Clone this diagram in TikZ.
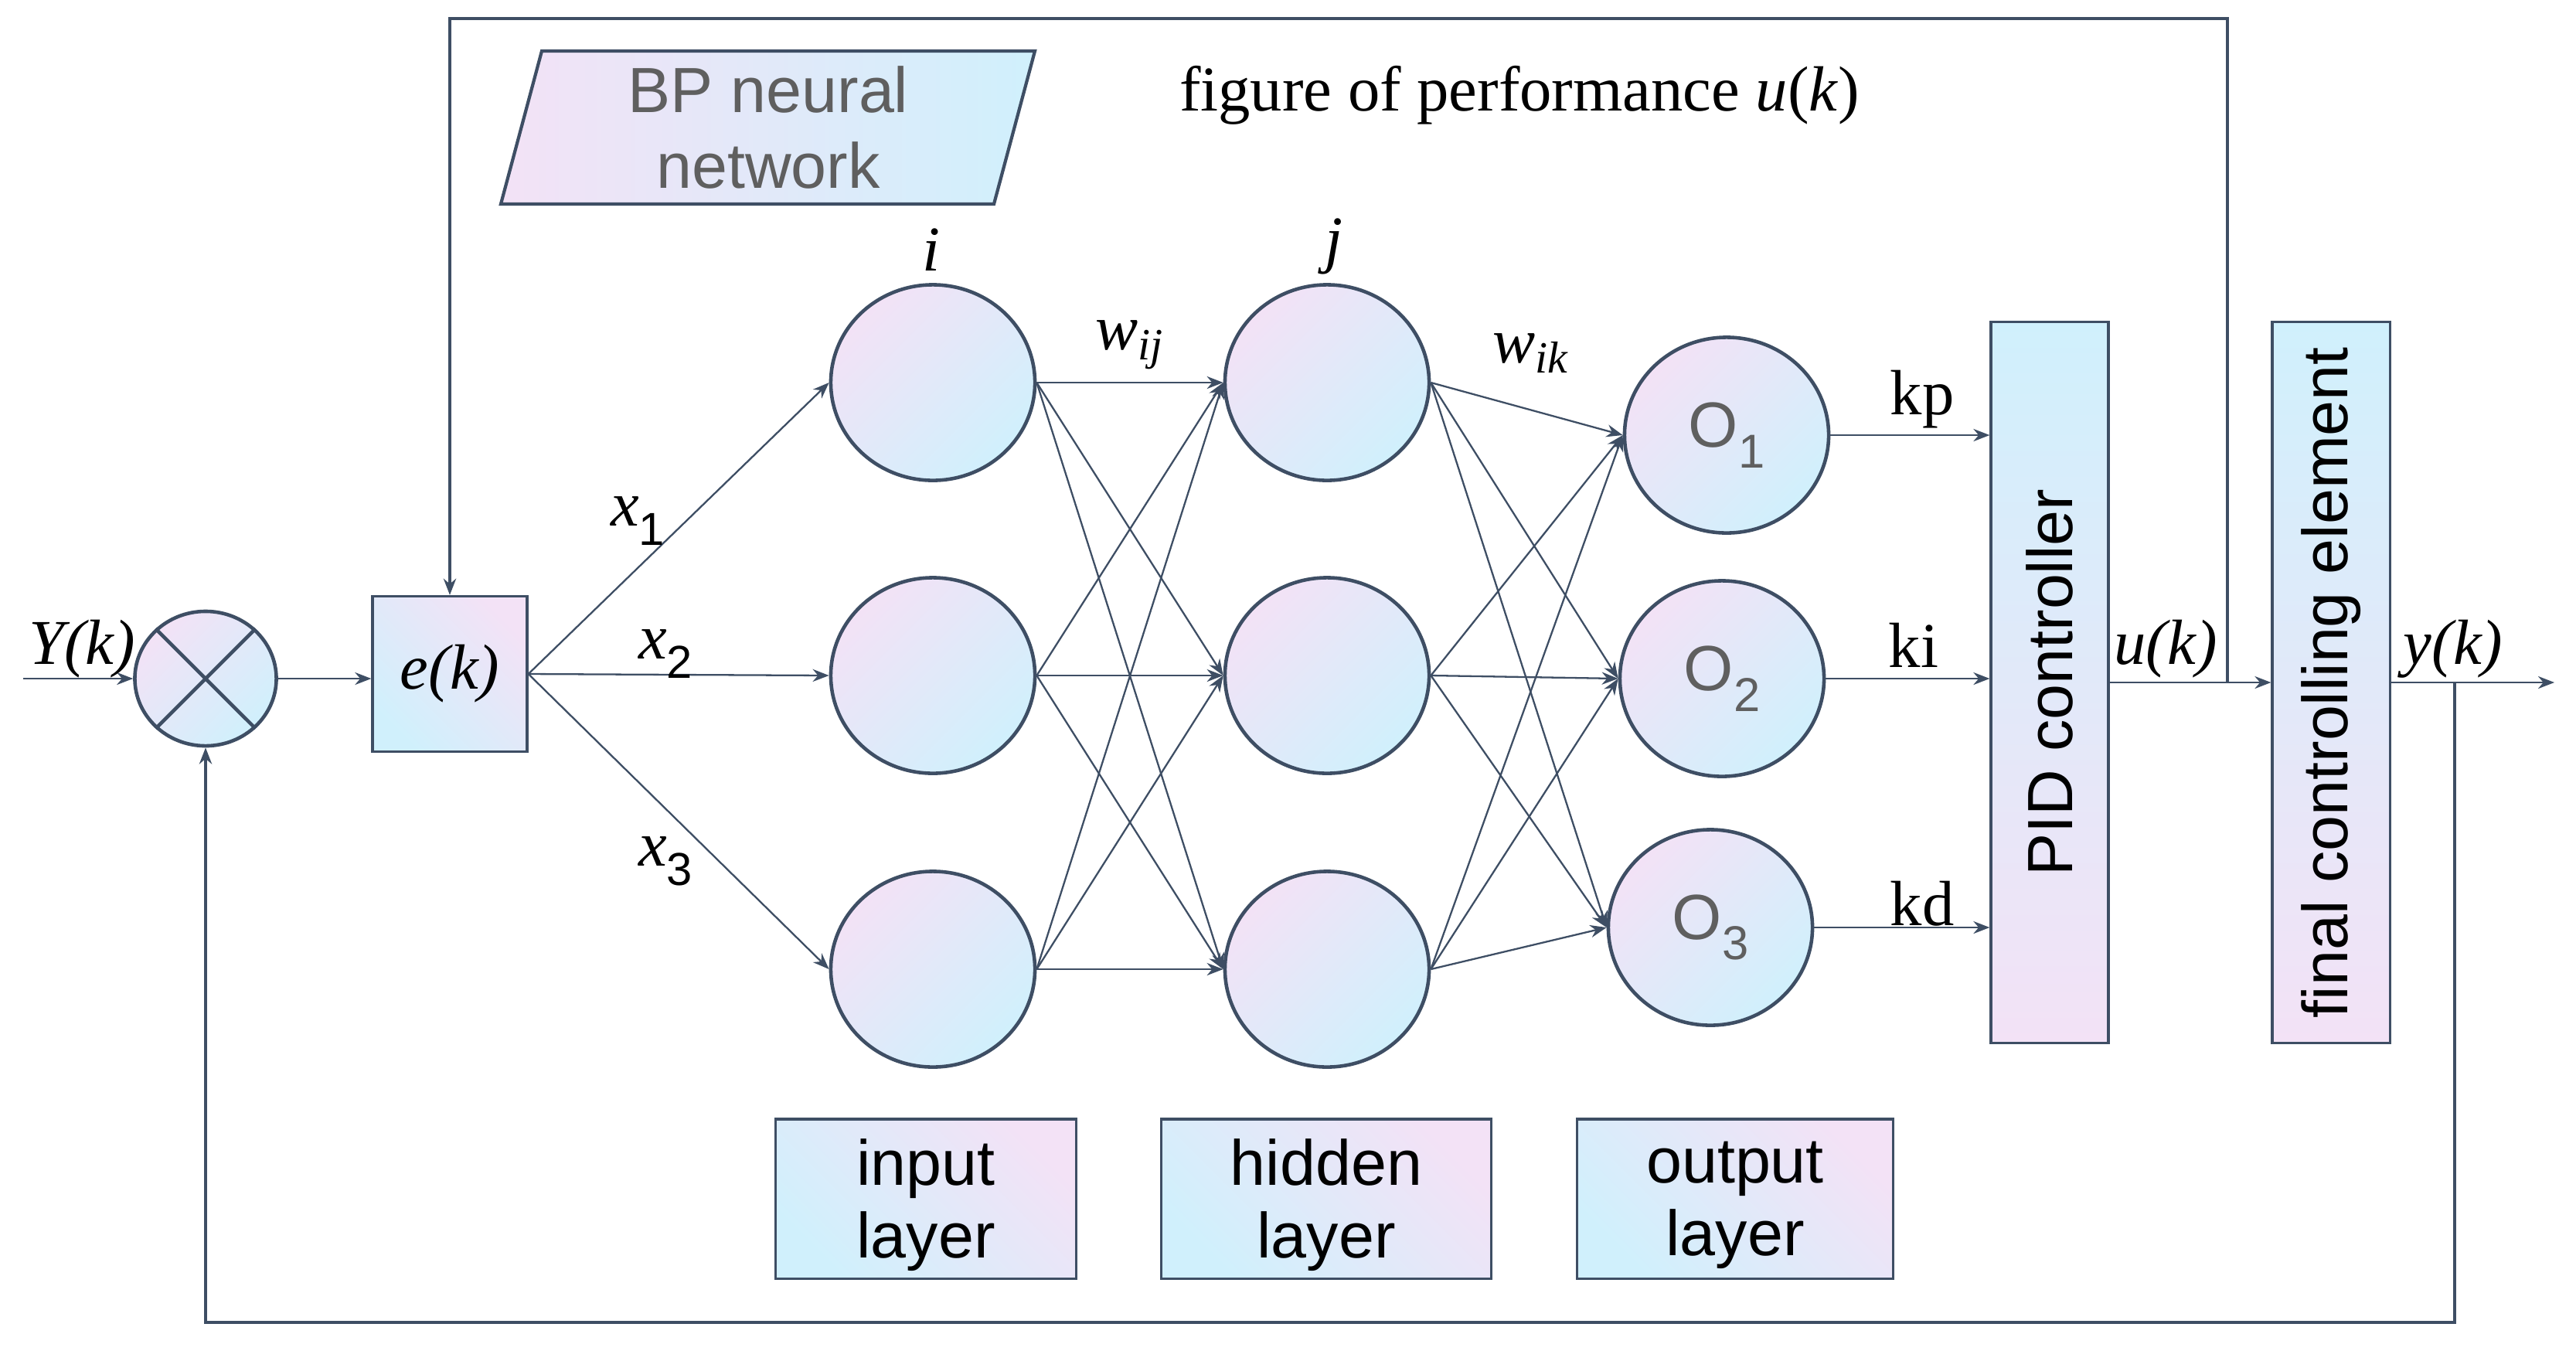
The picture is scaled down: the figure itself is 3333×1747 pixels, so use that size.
\documentclass[tikz,border=0pt]{standalone}
\usepackage{fontspec}
\setmainfont{Liberation Serif}
\setsansfont{Liberation Sans}
\usetikzlibrary{arrows.meta,shapes.geometric,calc}
\definecolor{edgec}{RGB}{62,78,100}
\definecolor{pinkc}{RGB}{243,226,246}
\definecolor{cyanc}{RGB}{208,240,252}
\definecolor{grayt}{RGB}{95,95,95}
\tikzset{
  >={Stealth[length=6pt,width=4.6pt]},
  conn/.style={draw=edgec, line width=0.65pt},
  fb/.style={draw=edgec, line width=1.1pt},
  neuron/.style={ellipse, draw=edgec, line width=1.3pt, minimum width=2.64cm,
    minimum height=2.53cm, inner sep=0pt, top color=pinkc, bottom color=cyanc,
    shading angle=45, font=\sffamily\fontsize{23.5}{28}\selectfont, text=grayt},
  sumc/.style={ellipse, draw=edgec, line width=1.3pt, minimum width=1.83cm,
    minimum height=1.74cm, inner sep=0pt, top color=pinkc, bottom color=cyanc,
    shading angle=45},
  dbox/.style={rectangle, draw=edgec, line width=0.9pt, inner sep=0pt,
    top color=pinkc, bottom color=cyanc, shading angle=-45},
  vbox/.style={rectangle, draw=edgec, line width=0.9pt, inner sep=0pt,
    top color=cyanc, bottom color=pinkc, minimum width=1.52cm, minimum height=9.33cm,
    font=\sffamily\fontsize{23.5}{28}\selectfont},
  laybox/.style={dbox, minimum height=2.06cm},
  laytext/.style={inner sep=0pt, align=center,
    font=\sffamily\fontsize{23.5}{26.7}\selectfont},
  lab/.style={inner sep=0pt, font=\fontsize{23.5}{28}\selectfont},
}
\newcommand\osub[1]{O\raisebox{-0.32em}{\fontsize{17.5}{18}\selectfont #1}}
\newcommand\xsub[1]{\textit{x}\raisebox{-0.3em}{\sffamily\fontsize{17}{18}\selectfont #1}}
\begin{document}
\begin{tikzpicture}[x=0.01cm,y=-0.01cm]
\useasboundingbox (0,0) rectangle (3333,1747);

% BP neural network parallelogram
\fill[left color=pinkc, right color=cyanc, draw=edgec, line width=1.2pt]
  (701,66) -- (1339,66) -- (1286,264) -- (648,264) -- cycle;
\node[align=center, inner sep=0pt, text=grayt,
  font=\sffamily\fontsize{23.5}{27.9}\selectfont] (bp) at (994,165) {BP neural\\network};

\node[lab] (perf) at (1966,123) {figure of performance \textit{u}(\textit{k})};

% summing junction and e(k)
\node[sumc] (sum) at (266,878) {};
\draw[edgec, line width=1.3pt] (sum.45) -- (sum.225) (sum.135) -- (sum.315);
\node[dbox, minimum width=2.0cm, minimum height=2.01cm,
  font=\fontsize{23.5}{28}\selectfont] (ek) at (582,872) {\textit{e(k)}};

% neurons
\node[neuron] (i1) at (1207,495) {};
\node[neuron] (i2) at (1207,874) {};
\node[neuron] (i3) at (1207,1254) {};
\node[neuron] (h1) at (1717,495) {};
\node[neuron] (h2) at (1717,874) {};
\node[neuron] (h3) at (1717,1254) {};
\node[neuron] (o1) at (2234,563) {\osub{1}};
\node[neuron] (o2) at (2228,878) {\osub{2}};
\node[neuron] (o3) at (2213,1200) {\osub{3}};

% PID and final controlling element
\node[vbox] (pid) at (2652,883) {\rotatebox{90}{PID controller}};
\node[vbox] (fce) at (3016,883) {\rotatebox{90}{final controlling element}};

% layer boxes
\node[laybox, minimum width=3.89cm] (lin) at (1198,1551) {};
\node[laybox, minimum width=4.27cm] (lhid) at (1716,1551) {};
\node[laybox, minimum width=4.08cm] (lout) at (2245,1551) {};
\node[laytext] (tin) at (1198,1559) {input\\layer};
\node[laytext] (thid) at (1716,1559) {hidden\\layer};
\node[laytext] (tout) at (2245,1559) {output\\layer};

% connections
\coordinate (yin) at (30,878);
\draw[conn,->] (yin) -- (sum.west);
\draw[conn,->] (sum.east) -- (sum.east -| ek.west);
\foreach \n in {i1,i2,i3} \draw[conn,->] (ek.east) -- (\n.west);
\foreach \a in {i1,i2,i3} \foreach \b in {h1,h2,h3} \draw[conn,->] (\a.east) -- (\b.west);
\foreach \a in {h1,h2,h3} \foreach \b in {o1,o2,o3} \draw[conn,->] (\a.east) -- (\b.west);
\draw[conn,->] (o1.east) -- (o1.east -| pid.west);
\draw[conn,->] (o2.east) -- (o2.east -| pid.west);
\draw[conn,->] (o3.east) -- (o3.east -| pid.west);
\draw[conn,->] (pid.east) -- (fce.west);
\coordinate (yout) at (3305,883);
\draw[conn,->] (fce.east) -- (yout);

% feedback loops
\coordinate (ju) at (2882,883);
\coordinate (jtop) at (2882,24);
\draw[fb,->] (ju) -- (jtop) -| (ek.north);
\coordinate (jy) at (3176,883);
\coordinate (jbot) at (3176,1711);
\draw[fb,->] (jy) -- (jbot) -| (sum.south);

% labels
\node[lab] (lY) at (106,840) {\textit{Y(k)}};
\node[lab] (lx1) at (825,674) {\xsub{1}};
\node[lab] (lx2) at (861,846) {\xsub{2}};
\node[lab] (lx3) at (861,1114) {\xsub{3}};
\node[lab] (li) at (1205,323) {\textit{i}};
\node[lab] (lj) at (1726,319) {\textit{j}};
\node[lab] (lwij) at (1462,446) {\textit{w}\textsubscript{\textit{ij}}};
\node[lab] (lwik) at (1981,457) {\textit{w}\textsubscript{\textit{ik}}};
\node[lab] (lkp) at (2487,517) {kp};
\node[lab] (lki) at (2476,835) {ki};
\node[lab] (lkd) at (2487,1169) {kd};
\node[lab] (lu) at (2802,840) {\textit{u(k)}};
\node[lab] (ly) at (3174,840) {\textit{y(k)}};
\end{tikzpicture}
\end{document}
